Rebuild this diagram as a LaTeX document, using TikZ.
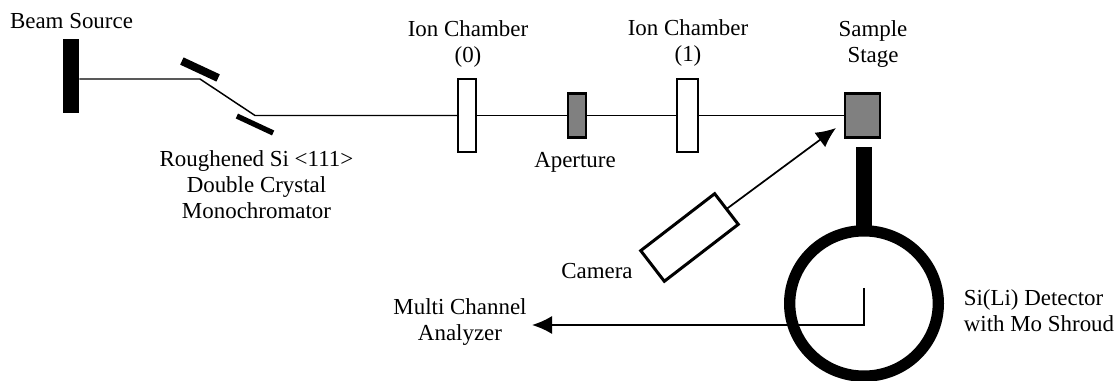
\documentclass[tikz,border=0pt]{standalone}
\usepackage{fontspec}
\setmainfont{Liberation Serif}
\usetikzlibrary{arrows.meta}
\usetikzlibrary{positioning}
\usetikzlibrary{shapes.geometric}

\tikzset{
  solid block/.style={fill=black,draw=none,inner sep=0pt},
  chamber/.style={rectangle,draw=black,fill=white,line width=1.6pt,inner sep=0pt,outer sep=0pt},
  gray block/.style={chamber,fill=black!50},
  label text/.style={font=\fontsize{17.2}{19.5}\selectfont,align=center,inner sep=0pt},
  beam/.style={draw=black,line width=1.1pt},
  pointer/.style={draw=black,line width=1.3pt,-{Latex[length=15pt,width=13.5pt]}}
}

\begin{document}
\begin{tikzpicture}[x=0.75pt,y=-0.75pt]
    \useasboundingbox (0,0) rectangle (1115,381);
    \begin{scope}
      \node[solid block,minimum width=12pt,minimum height=55.5pt] (source) at (71,76) {};
      \node[solid block,minimum width=30pt,minimum height=6pt,rotate=-25] (upper) at (200,69.5) {};
      \node[solid block,minimum width=30pt,minimum height=4pt,rotate=-25] (lower) at (255,124.5) {};
      \node[chamber,minimum width=13.5pt,minimum height=55pt] (ionzero) at (467,115.5) {};
      \node[gray block,minimum width=13.5pt,minimum height=33pt] (aperture) at (577,115.5) {};
      \node[chamber,minimum width=15.5pt,minimum height=55pt] (ionone) at (687.5,115.5) {};
      \node[gray block,minimum width=26pt,minimum height=33pt] (stage) at (862.5,115.5) {};
      \node[solid block,minimum width=12pt,minimum height=62pt] (arm) at (864,188.5) {};
      \node[ellipse,draw=black,line width=8.5pt,inner sep=0pt,minimum width=111.5pt,minimum height=109pt] (detector) at (864,303.5) {};
      \node[chamber,line width=2.25pt,minimum width=70pt,minimum height=29pt,rotate=37.6] (camera) at (689.5,237.5) {};
    \end{scope}
    \coordinate (kinka) at (200,79);
    \coordinate (kinkb) at (255,115.5);
    \coordinate (readout) at (864,288);
    \coordinate (elbow) at (864,325);
    \coordinate (analyzer) at (532,325);
    \coordinate (target) at (836,128);
    \begin{scope}[every node/.style={label text}]
      \node (sourcelabel) at (71.5,21) {Beam Source};
      \node (monolabel) at (256.5,185) {Roughened Si <111>\\Double Crystal\\Monochromator};
      \node (ionzerolabel) at (468,44) {Ion Chamber\\(0)};
      \node (aperturelabel) at (575,162) {Aperture};
      \node (ionelabel) at (688,43) {Ion Chamber\\(1)};
      \node (stagelabel) at (873,44) {Sample\\Stage};
      \node (cameralabel) at (597,271) {Camera};
      \node (analyzerlabel) at (460,322) {Multi Channel\\Analyzer};
      \node[align=left] (detectorlabel) at (1039,311) {Si(Li) Detector\\with Mo Shroud};
    \end{scope}
    \draw[beam] (source.east |- kinka) -- (kinka) -- (kinkb) -- (ionzero);
    \draw[beam] (ionzero) -- (aperture);
    \draw[beam] (aperture) -- (ionone);
    \draw[beam] (ionone) -- (stage);
    \draw[pointer] (camera.east) -- (target);
    \draw[pointer] (readout) -- (elbow) -- (analyzer);
\end{tikzpicture}
\end{document}
